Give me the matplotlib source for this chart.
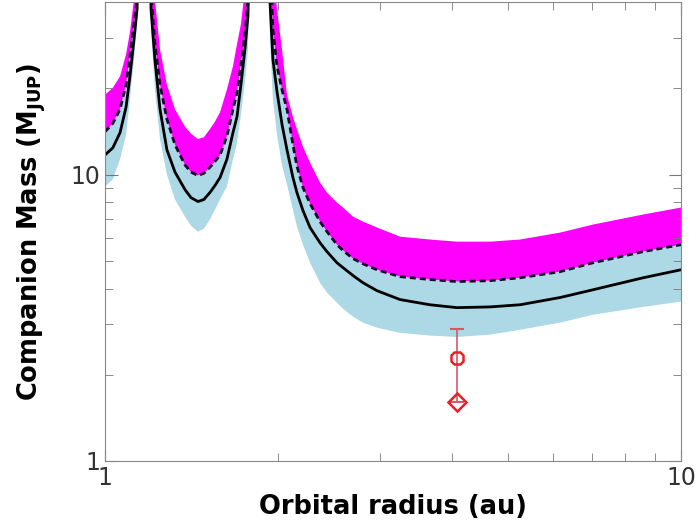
import numpy as np
import matplotlib
matplotlib.use('Agg')
import matplotlib.pyplot as plt
from matplotlib.ticker import LogLocator, NullFormatter, FixedLocator, FixedFormatter

# orbital radius grid (au); the 1000 values mark the two resonance spikes
radius = [1.000, 1.032, 1.062, 1.088, 1.105, 1.123, 1.137, 1.169, 1.202, 1.221,
          1.246, 1.281, 1.323, 1.377, 1.410, 1.450, 1.485, 1.521, 1.552, 1.584,
          1.628, 1.668, 1.695, 1.722, 1.750, 1.771, 1.851, 1.934, 1.957, 1.989,
          2.029, 2.070, 2.120, 2.154, 2.207, 2.270, 2.362, 2.429, 2.528, 2.590,
          2.695, 2.805, 2.967, 3.253, 3.667, 4.084, 4.660, 5.254, 6.166, 7.036,
          8.592, 10.0]
# upper edge of magenta band
mag_top = [19.0, 20.1, 22.0, 26.3, 31.4, 40.9, 56.5, 1000, 61.2, 40.9,
           27.4, 20.6, 16.9, 14.7, 13.9, 13.3, 13.5, 14.4, 15.3, 16.5,
           19.8, 23.9, 28.5, 33.5, 44.4, 56.5, 1000, 91.5, 52.1, 37.8,
           27.4, 19.0, 15.9, 14.4, 12.5, 11.0, 9.38, 8.65, 7.98, 7.67,
           7.13, 6.85, 6.53, 6.07, 5.93, 5.83, 5.83, 5.93, 6.27, 6.69,
           7.25, 7.67]
# dashed curve
dashed = [14.1, 15.1, 16.9, 20.6, 25.9, 33.5, 40.9, 1000, 42.6, 28.5,
          20.6, 15.6, 12.7, 10.8, 10.2, 9.92, 10.1, 10.6, 11.1, 11.7,
          13.6, 16.9, 19.3, 24.2, 30.9, 40.9, 1000, 56.5, 32.1, 23.9,
          19.8, 16.9, 12.7, 10.7, 9.00, 7.92, 6.85, 6.32, 5.69, 5.43,
          5.09, 4.88, 4.65, 4.40, 4.30, 4.23, 4.26, 4.36, 4.58, 4.92,
          5.38, 5.69]
# solid curve
solid = [11.7, 12.4, 14.0, 17.2, 22.0, 29.6, 37.8, 1000, 37.8, 25.2,
         16.9, 12.2, 10.2, 8.86, 8.31, 8.05, 8.18, 8.65, 9.15, 9.76,
         11.3, 14.0, 15.9, 20.6, 27.4, 35.7, 1000, 40.3, 25.2, 19.5,
         15.0, 12.2, 9.76, 8.65, 7.48, 6.53, 5.78, 5.38, 4.92, 4.73,
         4.44, 4.19, 3.93, 3.66, 3.51, 3.43, 3.45, 3.51, 3.72, 3.96,
         4.36, 4.65]
# lower edge of light blue band
blue_low = [9.08, 9.61, 11.3, 13.8, 18.3, 25.2, 33.5, 1000, 32.1, 19.8,
            13.3, 10.0, 8.18, 7.13, 6.63, 6.32, 6.47, 6.96, 7.54, 8.18,
            9.08, 11.3, 12.9, 16.2, 21.0, 27.4, 1000, 29.6, 18.3, 13.8,
            10.8, 9.23, 7.54, 6.58, 5.69, 4.92, 4.19, 3.87, 3.57, 3.40,
            3.19, 3.04, 2.92, 2.80, 2.74, 2.71, 2.76, 2.87, 3.04, 3.24,
            3.45, 3.60]

# companion measurements
comp_r = [4.08, 4.08]
comp_m = [2.29, 1.60]
comp_up = 2.9

fig = plt.figure(figsize=(6.97, 5.28), dpi=100)
ax = fig.add_axes([0.1506, 0.127, 0.8264, 0.869])

ax.fill_between(radius, blue_low, dashed, color='#add8e6', lw=0)
ax.fill_between(radius, dashed, mag_top, color='#ff00ff', lw=0)
ax.plot(radius, solid, color='k', lw=2)
ax.plot(radius, dashed, color='#1a0a2a', lw=2, ls=(0, (2.2, 1.4)))

ax.errorbar(comp_r[0], comp_m[0], yerr=[[comp_m[0] - comp_m[1]], [comp_up - comp_m[0]]],
            fmt='none', ecolor='#d85868', elinewidth=1.2, capsize=5, capthick=1.5)
ax.plot(comp_r[0], comp_m[0], marker='8', ms=10, mfc='none', mec='#e8202a', mew=1.8)
ax.plot(comp_r[1], comp_m[1], marker='D', ms=9, mfc='none', mec='#e8202a', mew=1.8)

ax.set_xscale('log'); ax.set_yscale('log')
ax.set_xlim(1, 10); ax.set_ylim(1, 40)

ax.xaxis.set_major_locator(FixedLocator([1, 10]))
ax.xaxis.set_major_formatter(FixedFormatter(['1', '10']))
ax.yaxis.set_major_locator(FixedLocator([1, 10]))
ax.yaxis.set_major_formatter(FixedFormatter(['1', '10']))
ax.xaxis.set_minor_locator(LogLocator(subs=np.arange(2, 10)))
ax.yaxis.set_minor_locator(LogLocator(subs=np.arange(2, 10)))
ax.xaxis.set_minor_formatter(NullFormatter())
ax.yaxis.set_minor_formatter(NullFormatter())

ax.tick_params(which='both', direction='in', top=True, right=True, color='#777777',
               labelsize=17, labelcolor='#333333')
ax.tick_params(which='major', length=9)
ax.tick_params(which='minor', length=6)
for s in ax.spines.values():
    s.set_color('#888888')

ax.set_xlabel('Orbital radius (au)', fontsize=18.5, fontweight='bold', labelpad=3)
ax.set_ylabel(r'Companion Mass (M$_{\mathbf{JUP}}$)', fontsize=18.5, fontweight='bold',
              labelpad=16)

fig.savefig('out.png', dpi=100)
